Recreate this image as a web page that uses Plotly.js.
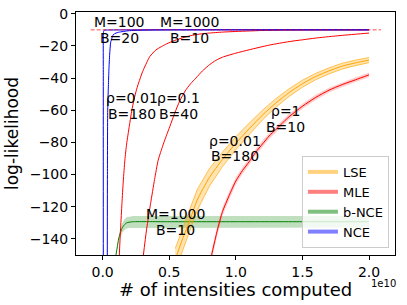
<!DOCTYPE html>
<html><head><meta charset="utf-8">
<script src="https://cdn.plot.ly/plotly-3.0.1.min.js"></script>
<style>html,body{margin:0;padding:0;background:#fff}</style>
</head><body><div id="chart" style="width:407px;height:305px"></div>
<script>
// x values are in units of 1e10 intensities computed
const nceAX = [0.005, 0.005, 0.006, 0.01, 0.05, 2.0];
const nceAY = [-155, -40, -12, -10.3, -10.1, -10];
const nceBX = [0.035, 0.036, 0.038, 0.043, 0.047, 0.053, 0.06, 0.07, 0.08, 0.1, 0.12, 0.2, 0.4, 2.0];
const nceBY = [-155, -100, -60, -45, -35, -25, -18, -15, -13, -12, -11.5, -10.5, -10.1, -10];
const mle1X = [0.124, 0.135, 0.145, 0.155, 0.167, 0.18, 0.2, 0.215, 0.23, 0.25, 0.27, 0.3, 0.33, 0.355, 0.4, 0.44, 0.48, 0.54, 0.6, 0.66, 0.73, 0.8, 0.9, 1.0, 1.1, 1.2, 1.35, 1.5, 2.0];
const mle1Y = [-152, -133, -118, -104, -91, -81, -70, -62, -55.5, -48.5, -43, -36, -30.5, -26.5, -22.5, -20.5, -18.7, -16.6, -15, -13.6, -12.6, -12, -11.4, -11, -10.7, -10.4, -10.2, -10.1, -10];
const mle2X = [0.303, 0.33, 0.36, 0.39, 0.417, 0.44, 0.46, 0.48, 0.505, 0.54, 0.58, 0.62, 0.66, 0.7, 0.75, 0.805, 0.85, 0.9, 1.0, 1.1, 1.25, 1.4, 1.5, 1.6, 1.75, 1.9, 2.0];
const mle2Y = [-152, -134, -118, -103, -91, -85, -80, -75.5, -70, -62, -54, -48, -43.5, -40, -35.5, -31.5, -29, -27, -24.5, -22.4, -19.5, -17.3, -16.2, -15.1, -13.8, -12.7, -12];
const mle3X = [0.81, 0.86, 0.9, 0.95, 1.0, 1.05, 1.1, 1.15, 1.2, 1.25, 1.3, 1.4, 1.5, 1.6, 1.7, 1.8, 1.9, 2.0];
const mle3Y = [-153, -135, -123, -113, -104, -97.5, -92, -86, -81, -76, -72, -64, -57.5, -52, -47.5, -44, -41, -38];
const mle3Err = [3, 3, 2.5, 2.5, 2.2, 2.1, 2, 2, 2, 1.9, 1.8, 1.8, 1.6, 1.6, 1.5, 1.5, 1.5, 1.5];
const lseX = [0.545, 0.6, 0.65, 0.71, 0.8, 0.9, 1.0, 1.1, 1.2, 1.3, 1.4, 1.5, 1.6, 1.7, 1.8, 1.9, 2.0];
const lseY = [-153, -140, -129.5, -115.8, -102, -90.5, -80.5, -71.5, -63, -55.5, -49, -43.5, -39, -35.5, -32.5, -30.5, -28.8];
const lseErr = [7, 7, 7, 6.5, 5.5, 4.5, 4, 3.5, 3, 2.7, 2.4, 2.2, 2, 1.9, 1.8, 1.7, 1.6];
const bnceX = [0.1, 0.11, 0.12, 0.13, 0.145, 0.16, 0.18, 0.2, 0.23, 0.5, 1.0, 1.5, 2.0];
const bnceY = [-150, -145, -140, -137, -133.5, -131.5, -130, -129.6, -129.3, -129.3, -129.3, -129.3, -129.3];
const bnceErr = [0.5, 1, 1.5, 2.5, 3, 3.3, 3.5, 3.6, 3.6, 3.6, 3.6, 3.6, 3.6];
const optX = [-0.09, 2.09];
const optY = [-10, -10];
const legendNames = ['LSE', 'MLE', 'b-NCE', 'NCE'];
const legendColors = ['rgba(255,165,0,0.5)', 'rgba(255,0,0,0.5)', 'rgba(0,128,0,0.5)', 'rgba(0,0,255,0.5)'];
const labels = [
  {t: 'M=100', x: 0.13, y: -5}, {t: 'B=20', x: 0.13, y: -15},
  {t: 'M=1000', x: 0.65, y: -5}, {t: 'B=10', x: 0.65, y: -15},
  {t: 'ρ=0.01', x: 0.224, y: -52.2}, {t: 'B=180', x: 0.224, y: -62.2},
  {t: 'ρ=0.1', x: 0.57, y: -52.2}, {t: 'B=40', x: 0.57, y: -62.2},
  {t: 'ρ=0.01', x: 0.99, y: -79}, {t: 'B=180', x: 0.99, y: -88.5},
  {t: 'ρ=1', x: 1.376, y: -60.6}, {t: 'B=10', x: 1.376, y: -70.2},
  {t: 'M=1000', x: 0.55, y: -124.3}, {t: 'B=10', x: 0.55, y: -134.2}
];

function band(xs, ys, es, fillc) {
  const up = ys.map((v, i) => v + es[i]);
  const lo = ys.map((v, i) => v - es[i]);
  return {x: xs.concat(xs.slice().reverse()), y: up.concat(lo.slice().reverse()),
    type: 'scatter', mode: 'lines', fill: 'toself', fillcolor: fillc,
    line: {width: 0}, showlegend: false, hoverinfo: 'skip'};
}
function edge(xs, ys, es, sign, col) {
  return {x: xs, y: ys.map((v, i) => v + sign * es[i]), type: 'scatter', mode: 'lines',
    line: {color: col, width: 0.8}, showlegend: false};
}
function line(xs, ys, col, w) {
  return {x: xs, y: ys, type: 'scatter', mode: 'lines', line: {color: col, width: w, shape: 'spline', smoothing: 0.6}, showlegend: false};
}

const traces = [
  band(bnceX, bnceY, bnceErr, 'rgba(0,128,0,0.25)'),
  line(bnceX, bnceY, 'green', 1),
  band(lseX, lseY, lseErr, 'rgba(255,165,0,0.3)'),
  edge(lseX, lseY, lseErr, 1, 'rgba(255,165,0,0.8)'),
  edge(lseX, lseY, lseErr, -1, 'rgba(255,165,0,0.8)'),
  line(lseX, lseY, 'orange', 1),
  band(mle3X, mle3Y, mle3Err, 'rgba(255,0,0,0.2)'),
  line(mle3X, mle3Y, 'red', 1),
  line(mle1X, mle1Y, 'red', 1),
  line(mle2X, mle2Y, 'red', 1),
  line(nceAX, nceAY, 'blue', 1),
  line(nceBX, nceBY, 'blue', 1),
  {x: optX, y: optY, type: 'scatter', mode: 'lines', line: {color: 'rgba(255,0,0,0.7)', width: 1, dash: '4px,2px'}, showlegend: false}
];
legendNames.forEach((n, i) => traces.push({x: [null], y: [null], type: 'scatter', mode: 'lines',
  name: n, line: {color: legendColors[i], width: 4}, showlegend: true}));

const annotations = labels.map(l => ({x: l.x, y: l.y, xref: 'x', yref: 'y', text: l.t, showarrow: false,
  xanchor: 'center', yanchor: 'middle', font: {size: 14, color: 'black'}}));
annotations.push({x: 0.9655, y: -0.118, xref: 'paper', yref: 'paper', text: '1e10', showarrow: false,
  xanchor: 'center', yanchor: 'middle', font: {size: 10, color: 'black'}});
annotations.push({x: 0.5, y: -0.142, xref: 'paper', yref: 'paper', text: '# of intensities computed', showarrow: false,
  xanchor: 'center', yanchor: 'middle', font: {size: 18, color: 'black'}});

const axisCommon = {showline: true, mirror: true, linecolor: 'black', linewidth: 1, ticks: 'outside',
  ticklen: 4, tickcolor: 'black', showgrid: false, zeroline: false, tickfont: {size: 14, color: 'black'}};

const layout = {
  width: 407, height: 305,
  margin: {l: 76, r: 12, t: 12, b: 50},
  paper_bgcolor: 'white', plot_bgcolor: 'white',
  font: {family: 'DejaVu Sans', color: 'black'},
  xaxis: Object.assign({}, axisCommon, {range: [-0.2, 2.195], tick0: 0, dtick: 0.5, tickformat: '.1f'}),
  yaxis: Object.assign({}, axisCommon, {range: [-150, 1.1], tick0: 0, dtick: 20,
    title: {text: 'log-likelihood', font: {size: 17}, standoff: 6}}),
  showlegend: true,
  legend: {x: 0.981, y: 0.029, xanchor: 'right', yanchor: 'bottom', bgcolor: 'rgba(255,255,255,0.8)',
    bordercolor: '#cccccc', borderwidth: 1, font: {size: 13}},
  annotations: annotations
};
Plotly.newPlot('chart', traces, layout, {displayModeBar: false, staticPlot: true});
</script></body></html>
